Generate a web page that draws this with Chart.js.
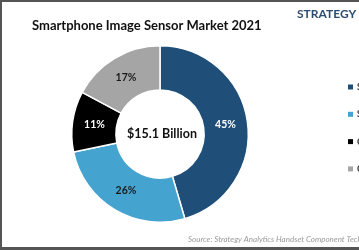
<!DOCTYPE html>
<html>
<head>
<meta charset="utf-8">
<script src="https://cdn.jsdelivr.net/npm/chart.js@4.4.0/dist/chart.umd.min.js"></script>
<style>
  html, body { margin: 0; padding: 0; background: #fff; overflow: hidden; }
  #wrap { width: 359px; height: 250px; position: relative; }
</style>
</head>
<body>
<div id="wrap"><canvas id="sensorChart" width="359" height="250"></canvas></div>
<script>
// market share 2021, % of revenue
var vendors = ['Sony', 'Samsung', 'OmniVision', 'Others'];
var shares = [45, 26, 11, 17];
var sliceColors = ['#1f4e79', '#45a3cf', '#000000', '#a5a5a5'];
var labelColors = ['#ffffff', '#1a1a1a', '#ffffff', '#1a1a1a'];
var chartTitle = 'Smartphone Image Sensor Market 2021';
var centerText = '$15.1 Billion';
var sourceText = 'Source: Strategy Analytics Handset Component Technologies';

var FONT = 'Lato, "Open Sans", sans-serif';

var extras = {
  id: 'extras',
  afterDraw: function (chart) {
    var ctx = chart.ctx;
    var meta = chart.getDatasetMeta(0);
    ctx.save();

    // frame (left, top, bottom)
    ctx.fillStyle = '#555555';
    ctx.fillRect(0, 0, 359, 2);
    ctx.fillRect(0, 0, 2, 250);
    ctx.fillRect(0, 247, 359, 3);

    // titles
    ctx.textBaseline = 'alphabetic';
    ctx.textAlign = 'left';
    ctx.fillStyle = '#111111';
    ctx.font = 'bold 13px ' + FONT;
    ctx.fillText(chartTitle, 32, 30);

    ctx.fillStyle = '#2d4d70';
    ctx.font = 'bold 12px ' + FONT;
    ctx.fillText('STRATEGY', 297, 18);

    ctx.fillStyle = '#9a9a9a';
    ctx.font = 'italic 8px ' + FONT;
    ctx.fillText(sourceText, 188, 242);

    // percentage labels
    ctx.textAlign = 'center';
    ctx.textBaseline = 'middle';
    ctx.font = 'bold 10.5px ' + FONT;
    meta.data.forEach(function (arc, i) {
      var p = arc.tooltipPosition();
      ctx.fillStyle = labelColors[i];
      ctx.fillText(shares[i] + '%', p.x, p.y);
    });

    // center total
    var c = meta.data[0];
    ctx.fillStyle = '#111111';
    ctx.font = 'bold 12.5px ' + FONT;
    ctx.fillText(centerText, c.x + 2, c.y);

    // legend (cut off by the right edge)
    ctx.textAlign = 'left';
    ctx.font = 'bold 9px ' + FONT;
    vendors.forEach(function (v, i) {
      var y = 87 + i * 27.3;
      ctx.fillStyle = sliceColors[i];
      ctx.fillRect(348, y - 2.5, 5, 5);
      ctx.fillStyle = '#333333';
      ctx.fillText(v, 357, y);
    });

    ctx.restore();
  }
};

var ctx = document.getElementById('sensorChart').getContext('2d');
var chart = new Chart(ctx, {
  type: 'doughnut',
  data: {
    labels: vendors,
    datasets: [{
      data: shares,
      backgroundColor: sliceColors,
      borderColor: '#ffffff',
      borderWidth: 1.5
    }]
  },
  options: {
    responsive: false,
    animation: false,
    cutout: '50%',
    layout: {
      padding: { left: 71, right: 110, top: 45, bottom: 27 }
    },
    plugins: {
      legend: { display: false },
      title: { display: false },
      tooltip: { enabled: false }
    }
  },
  plugins: [extras]
});
</script>
</body>
</html>
